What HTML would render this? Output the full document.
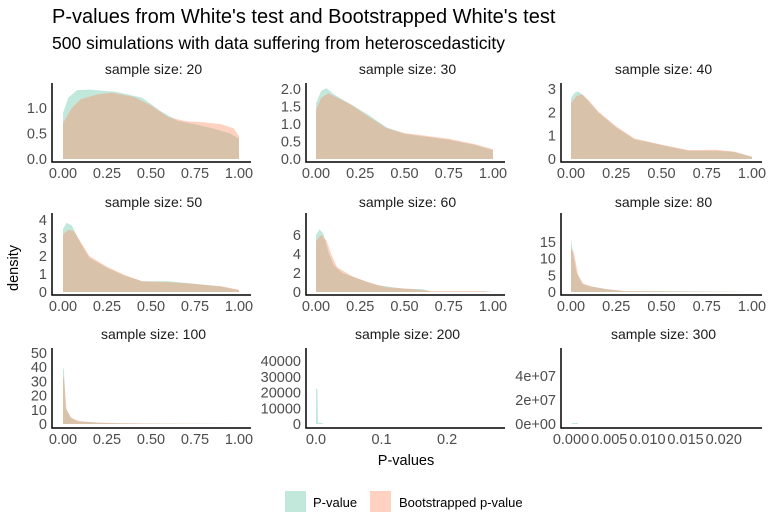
<!DOCTYPE html>
<html><head><meta charset="utf-8"><style>
body{margin:0;background:#fff}
svg{display:block;font-family:"Liberation Sans",sans-serif}
.t{font-size:14.5px;fill:#4d4d4d}
.st{font-size:14px;fill:#1a1a1a}
</style></head><body>
<svg id="s" width="768" height="528" viewBox="0 0 768 528">
<text x="52" y="23" font-size="20" fill="#000">P-values from White's test and Bootstrapped White's test</text>
<text x="52" y="49" font-size="17.5" fill="#000">500 simulations with data suffering from heteroscedasticity</text>
<text x="406" y="465" font-size="14.5" text-anchor="middle" fill="#000">P-values</text>
<text transform="translate(18,268) rotate(-90)" font-size="14.5" text-anchor="middle" fill="#000">density</text>
<rect x="285" y="491" width="21" height="21" fill="#66c2a5" fill-opacity="0.4"/>
<text x="313" y="507" font-size="13" fill="#000">P-value</text>
<rect x="370" y="491" width="21" height="21" fill="#fc8d62" fill-opacity="0.4"/>
<text x="399" y="507" font-size="13" fill="#000">Bootstrapped p-value</text>
<g id="g"></g>
</svg>
<script>
var NS="http://www.w3.org/2000/svg",g=document.getElementById("g");
function el(t,a,txt){var e=document.createElementNS(NS,t);for(var k in a)e.setAttribute(k,a[k]);if(txt!=null)e.textContent=txt;g.appendChild(e);return e;}
var cols=[{ax:52,x0:63,x1:239,r:251},{ax:306,x0:316,x1:493,r:505},{ax:561,x0:571,x1:752,r:762}];
var rows=[{title:74,base:159,axis:162,top:85},{title:207,base:292,axis:295,top:215},{title:339,base:424,axis:428,top:350}];
var P=[
{n:20,c:0,r:0,ticks:[[0,"0.0"],[0.5,"0.5"],[1,"1.0"]],ppu:51,
 g:[[0,.9],[.03,1.2],[.08,1.35],[.15,1.36],[.3,1.32],[.45,1.2],[.55,.95],[.65,.75],[.75,.68],[.85,.6],[.95,.5],[1,.4]],
 o:[[0,.7],[.05,1.0],[.1,1.17],[.2,1.27],[.28,1.3],[.4,1.22],[.5,1.05],[.6,.82],[.7,.74],[.8,.72],[.9,.68],[.97,.6],[1,.45]]},
{n:30,c:1,r:0,ticks:[[0,"0.0"],[0.5,"0.5"],[1,"1.0"],[1.5,"1.5"],[2,"2.0"]],ppu:35,
 g:[[0,1.6],[.03,1.95],[.06,2.02],[.1,1.85],[.2,1.55],[.3,1.25],[.4,.9],[.5,.72],[.6,.65],[.75,.55],[.9,.4],[1,.25]],
 o:[[0,1.4],[.03,1.75],[.07,1.88],[.12,1.75],[.2,1.55],[.3,1.2],[.4,.88],[.5,.74],[.6,.68],[.75,.58],[.9,.42],[1,.28]]},
{n:40,c:2,r:0,ticks:[[0,"0"],[1,"1"],[2,"2"],[3,"3"]],ppu:23.3,
 g:[[0,2.6],[.02,2.85],[.04,2.9],[.07,2.72],[.15,2],[.25,1.35],[.35,.85],[.5,.6],[.65,.35],[.8,.35],[.9,.3],[1,.1]],
 o:[[0,2.4],[.03,2.7],[.06,2.78],[.1,2.5],[.15,2.05],[.25,1.4],[.35,.88],[.5,.62],[.65,.38],[.8,.4],[.9,.32],[1,.1]]},
{n:50,c:0,r:1,ticks:[[0,"0"],[1,"1"],[2,"2"],[3,"3"],[4,"4"]],ppu:18,
 g:[[0,3.5],[.02,3.85],[.05,3.7],[.1,2.7],[.15,1.9],[.25,1.35],[.35,.9],[.45,.6],[.6,.6],[.75,.45],[.9,.3],[1,.1]],
 o:[[0,3.2],[.03,3.45],[.06,3.4],[.1,2.8],[.15,2.0],[.25,1.4],[.35,.95],[.45,.6],[.6,.55],[.75,.45],[.9,.32],[1,.12]]},
{n:60,c:1,r:1,ticks:[[0,"0"],[2,"2"],[4,"4"],[6,"6"]],ppu:9.5,
 g:[[0,6],[.02,6.6],[.04,6.2],[.07,4.2],[.1,2.8],[.15,2],[.25,1.3],[.35,.7],[.5,.35],[.6,.3],[.65,.05],[.8,.05],[.95,.05],[1,0]],
 o:[[0,5.4],[.03,6],[.06,5.4],[.09,3.8],[.12,2.6],[.2,1.7],[.3,1.0],[.4,.5],[.55,.3],[.65,.1],[.85,.1],[.95,.1],[1,0]]},
{n:80,c:2,r:1,ticks:[[0,"0"],[5,"5"],[10,"10"],[15,"15"]],ppu:3.35,
 g:[[0,16],[.01,12],[.03,6],[.06,2.5],[.1,1.7],[.2,.8],[.3,.2],[.5,.2],[1,0]],
 o:[[0,13],[.015,12],[.04,5],[.07,2.4],[.12,1.6],[.2,.8],[.3,.3],[.5,.2],[1,0]]},
{n:100,c:0,r:2,ticks:[[0,"0"],[10,"10"],[20,"20"],[30,"30"],[40,"40"],[50,"50"]],ppu:1.42,
 g:[[0,40],[.005,38],[.015,12],[.04,5],[.08,2],[.2,1],[.3,.5],[.5,.3],[1,0]],
 o:[[0,34],[.008,30],[.02,10],[.05,4],[.1,2],[.2,1],[.3,.6],[.5,.3],[1,0]]},
{n:200,c:1,r:2,ticks:[[0,"0"],[10000,"10000"],[20000,"20000"],[30000,"30000"],[40000,"40000"]],ppu:0.00157,max:0.27,xt:[[0,"0.0"],[.1,"0.1"],[.2,"0.2"]],
 g:[[0,22500],[.002,22500],[.003,800],[.01,600],[.011,0],[.27,0]],o:[[0,0],[.27,0]]},
{n:300,c:2,r:2,ticks:[[0,"0e+00"],[2e7,"2e+07"],[4e7,"4e+07"]],ppu:1.2e-6,max:0.0237,xt:[[0,"0.000"],[.005,"0.005"],[.01,"0.010"],[.015,"0.015"],[.02,"0.020"]],
 g:[[0,0],[.0003,8e5],[.0008,8e5],[.001,0],[.0237,0]],o:[[0,0],[.0237,0]]}
];
P.forEach(function(p){
 var C=cols[p.c],R=rows[p.r],mx=p.max||1;
 var X=function(v){return C.x0+(C.x1-C.x0)*v/mx;},Y=function(v){return R.base-v*p.ppu;};
 el("text",{x:(C.ax+C.r)/2+2,y:R.title,class:"st","text-anchor":"middle"},"sample size: "+p.n);
 [[p.g,"#66c2a5"],[p.o,"#fc8d62"]].forEach(function(s){
  var d="M"+X(s[0][0][0])+","+R.base;
  s[0].forEach(function(pt){d+="L"+X(pt[0]).toFixed(1)+","+Y(pt[1]).toFixed(1);});
  d+="L"+X(s[0][s[0].length-1][0])+","+R.base+"Z";
  el("path",{d:d,fill:s[1],"fill-opacity":0.4});
 });
 el("path",{d:"M"+C.ax+","+(R.top-2)+"V"+R.axis+"H"+C.r,stroke:"#000","stroke-width":1.5,fill:"none"});
 p.ticks.forEach(function(t){el("text",{x:C.ax-5,y:Y(t[0])+5,class:"t","text-anchor":"end"},t[1]);});
 var xt=p.xt||[[0,"0.00"],[.25,"0.25"],[.5,"0.50"],[.75,"0.75"],[1,"1.00"]];
 xt.forEach(function(t){el("text",{x:X(t[0]),y:R.axis+16,class:"t","text-anchor":"middle"},t[1]);});
});
</script>
</body></html>
